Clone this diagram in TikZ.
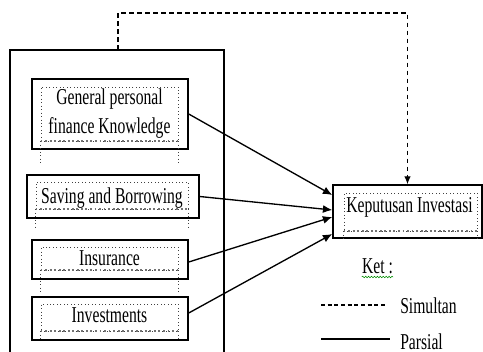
\documentclass[tikz,border=0pt]{standalone}
\usepackage{fontspec}
\newfontfamily\figfont[FakeStretch=0.69]{Liberation Serif}
\usetikzlibrary{
    arrows.meta,
    calc,
    positioning,
    decorations.pathmorphing
}
\newdimen\pxu
\pxu=0.75pt
\tikzset{var/.style={draw=black, line width=1.1pt, inner sep=0pt}}
\tikzset{frm/.style={draw=black!75, dotted, line width=0.6pt, inner sep=0pt}}
\tikzset{frmbot/.style={draw=black!55, dotted, line width=1.4pt}}
\tikzset{txt/.style={inner sep=0pt, font=\figfont\fontsize{17}{21.75}\selectfont, align=center}}
\tikzset{pars/.style={line width=1pt, -{Latex[length=7pt, width=6pt]}}}
\tikzset{simul/.style={line width=0.9pt, dash pattern=on 3.5pt off 2.5pt}}

\begin{document}
\begin{tikzpicture}[x=0.75pt, y=-0.75pt]
                        \useasboundingbox (0, 0) rectangle (483, 351);

                        \draw[line width=0.9pt] (10, 360) -- (10, 50) -- (224, 50) -- (224, 360);
                        \coordinate (ob) at (118, 50);
                        \coordinate (tc) at (118, 13);

                        \node[var, minimum width=156\pxu, minimum height=70\pxu] (gpk) at (110, 114) {};
                        \node[frm, minimum width=137\pxu, minimum height=54\pxu] (gpk-f) at (109.5, 114) {};
                        \node[txt] (gpk-t) at (109.5, 114) {General personal\\finance Knowledge};
                        \draw[frm] (gpk-f.south west) -- ++(0, 22);
                        \draw[frm] (gpk-f.south east) -- ++(0, 22);
                        \draw[frmbot] (gpk-f.south west) -- (gpk-f.south east);

                        \node[var, minimum width=172\pxu, minimum height=43\pxu] (sab) at (113, 196.5) {};
                        \node[frm, minimum width=152\pxu, minimum height=27\pxu] (sab-f) at (112, 195.5) {};
                        \node[txt, anchor=base] (sab-t) at (112, 203) {Saving and Borrowing};
                        \draw[frm] (sab-f.south west) -- ++(0, 19);
                        \draw[frm] (sab-f.south east) -- ++(0, 19);
                        \draw[frmbot] (sab-f.south west) -- (sab-f.south east);

                        \node[var, minimum width=156\pxu, minimum height=39\pxu] (ins) at (110, 259.5) {};
                        \node[frm, minimum width=137\pxu, minimum height=23\pxu] (ins-f) at (109.5, 258.5) {};
                        \node[txt, anchor=base] (ins-t) at (109.5, 265) {Insurance};
                        \draw[frm] (ins-f.south west) -- ++(0, 23);
                        \draw[frm] (ins-f.south east) -- ++(0, 23);
                        \draw[frmbot] (ins-f.south west) -- (ins-f.south east);

                        \node[var, minimum width=156\pxu, minimum height=43\pxu] (inv) at (110, 318.5) {};
                        \node[frm, minimum width=137\pxu, minimum height=27\pxu] (inv-f) at (109.5, 317.5) {};
                        \node[txt, anchor=base] (inv-t) at (109.5, 322) {Investments};
                        \draw[frm] (inv-f.south west) -- ++(0, 7);
                        \draw[frm] (inv-f.south east) -- ++(0, 7);
                        \draw[frmbot] (inv-f.south west) -- (inv-f.south east);

                        \node[var, minimum width=149\pxu, minimum height=53\pxu] (kep) at (407.5, 211.5) {};
                        \node[frm, minimum width=133\pxu, minimum height=38\pxu] (kep-f) at (410.5, 212) {};
                        \node[txt, anchor=base] (kep-t) at (409.5, 212) {Keputusan Investasi};
                        \draw[frm] (kep-f.south west) -- ++(0, 9);
                        \draw[frm] (kep-f.south east) -- ++(0, 9);
                        \draw[frmbot] (kep-f.south west) -- (kep-f.south east);

                        \draw[pars] (gpk.east) -- ($(kep.west) + (0, -16.5)$);
                        \draw[pars] (sab.east) -- ($(kep.west) + (0, -1.5)$);
                        \draw[pars] ($(ins.east) + (0, 2.5)$) -- ($(kep.west) + (0, 5.5)$);
                        \draw[pars] ($(inv.east) + (0, -5.5)$) -- ($(kep.west) + (0, 22.5)$);

                        \draw[simul, -{Latex[length=6pt, width=5pt]}] (ob) -- (tc) -| (kep.north);

                        \node[txt, anchor=base] (ket) at (377.5, 273) {Ket :};
                        \draw[green!55!black, line width=0.4pt, decorate, decoration={snake, amplitude=0.6pt, segment length=2.2pt}] ($(ket.base west) + (0, 4)$) -- ($(ket.base east) + (0, 4)$);

                        \coordinate (sim-a) at (321, 305);
                        \coordinate (sim-b) at (387, 305);
                        \node[txt, anchor=base west] (sim) at (400, 313) {Simultan};
                        \draw[line width=0.8pt, dash pattern=on 3pt off 2pt] (sim-a) -- (sim-b);

                        \coordinate (par-a) at (321, 339);
                        \coordinate (par-b) at (390, 339);
                        \node[txt, anchor=base west] (par) at (400, 349) {Parsial};
                        \draw[line width=0.9pt] (par-a) -- (par-b);
                    \end{tikzpicture}
\end{document}
